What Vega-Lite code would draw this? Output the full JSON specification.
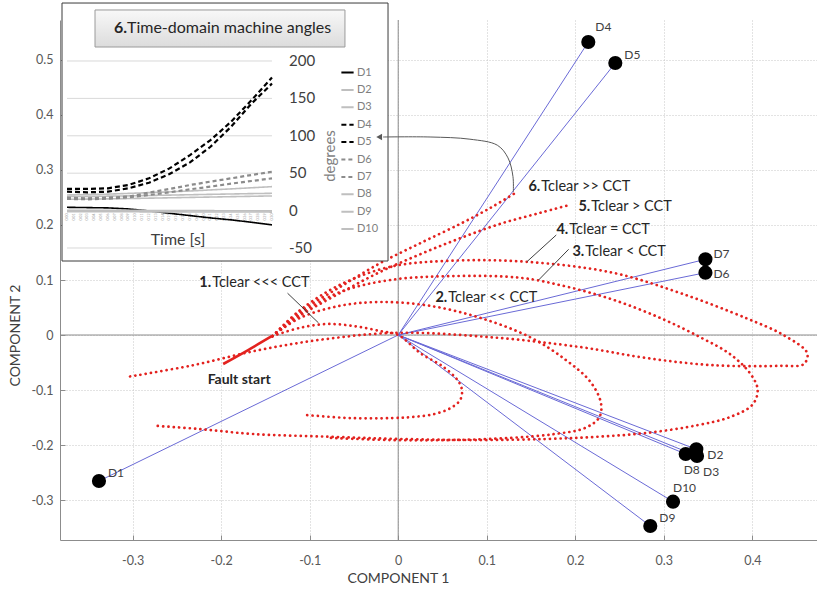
{
"$schema":"https://vega.github.io/schema/vega-lite/v6.json",
"width":757,"height":520,
"autosize":{"type":"none"},
"padding":{"left":60,"top":20,"right":0,"bottom":49},
"background":"white",
"config":{"view":{"stroke":null},"font":"Lato"},
"datasets":{
"pts":[
{"name":"D1","x":-0.338,"y":-0.2655},{"name":"D2","x":0.3367,"y":-0.2078},{"name":"D3","x":0.3375,"y":-0.22},{"name":"D4","x":0.2147,"y":0.5327},{"name":"D5","x":0.2452,"y":0.4945},{"name":"D6","x":0.347,"y":0.1133},{"name":"D7","x":0.347,"y":0.1376},{"name":"D8","x":0.3247,"y":-0.2164},{"name":"D9","x":0.2847,"y":-0.3473},{"name":"D10","x":0.3104,"y":-0.303}],
"curves":[
{"c":"1","i":0,"x":-0.142,"y":-0.002},{"c":"1","i":1,"x":-0.111,"y":0.013},{"c":"1","i":2,"x":-0.08,"y":0.02},{"c":"1","i":3,"x":-0.049,"y":0.016},{"c":"1","i":4,"x":-0.02,"y":0.007},{"c":"1","i":5,"x":0.0,"y":0.0},{"c":"1","i":6,"x":0.025,"y":-0.033},{"c":"1","i":7,"x":0.051,"y":-0.058},{"c":"1","i":8,"x":0.067,"y":-0.082},{"c":"1","i":9,"x":0.072,"y":-0.1},{"c":"1","i":10,"x":0.07,"y":-0.118},{"c":"1","i":11,"x":0.059,"y":-0.133},{"c":"1","i":12,"x":0.04,"y":-0.144},{"c":"1","i":13,"x":0.017,"y":-0.149},{"c":"1","i":14,"x":-0.006,"y":-0.151},{"c":"1","i":15,"x":-0.054,"y":-0.151},{"c":"1","i":16,"x":-0.107,"y":-0.145},
{"c":"2","i":0,"x":-0.142,"y":-0.002},{"c":"2","i":1,"x":-0.111,"y":0.031},{"c":"2","i":2,"x":-0.066,"y":0.053},{"c":"2","i":3,"x":-0.02,"y":0.06},{"c":"2","i":4,"x":0.036,"y":0.053},{"c":"2","i":5,"x":0.093,"y":0.031},{"c":"2","i":6,"x":0.149,"y":-0.004},{"c":"2","i":7,"x":0.189,"y":-0.045},{"c":"2","i":8,"x":0.217,"y":-0.085},{"c":"2","i":9,"x":0.229,"y":-0.124},{"c":"2","i":10,"x":0.227,"y":-0.15},{"c":"2","i":11,"x":0.211,"y":-0.169},{"c":"2","i":12,"x":0.177,"y":-0.18},{"c":"2","i":13,"x":0.127,"y":-0.187},{"c":"2","i":14,"x":0.059,"y":-0.191},{"c":"2","i":15,"x":-0.009,"y":-0.191},{"c":"2","i":16,"x":-0.077,"y":-0.187},
{"c":"3","i":0,"x":-0.142,"y":-0.002},{"c":"3","i":1,"x":-0.111,"y":0.038},{"c":"3","i":2,"x":-0.066,"y":0.078},{"c":"3","i":3,"x":-0.009,"y":0.1},{"c":"3","i":4,"x":0.059,"y":0.107},{"c":"3","i":5,"x":0.138,"y":0.104},{"c":"3","i":6,"x":0.19,"y":0.088},{"c":"3","i":7,"x":0.243,"y":0.064},{"c":"3","i":8,"x":0.296,"y":0.031},{"c":"3","i":9,"x":0.341,"y":-0.004},{"c":"3","i":10,"x":0.375,"y":-0.035},{"c":"3","i":11,"x":0.398,"y":-0.071},{"c":"3","i":12,"x":0.406,"y":-0.1},{"c":"3","i":13,"x":0.4,"y":-0.127},{"c":"3","i":14,"x":0.375,"y":-0.149},{"c":"3","i":15,"x":0.338,"y":-0.164},{"c":"3","i":16,"x":0.281,"y":-0.178},{"c":"3","i":17,"x":0.225,"y":-0.185},{"c":"3","i":18,"x":0.168,"y":-0.189},{"c":"3","i":19,"x":0.093,"y":-0.191},{"c":"3","i":20,"x":0.002,"y":-0.189},{"c":"3","i":21,"x":-0.077,"y":-0.185},{"c":"3","i":22,"x":-0.164,"y":-0.18},{"c":"3","i":23,"x":-0.224,"y":-0.171},{"c":"3","i":24,"x":-0.275,"y":-0.165},
{"c":"4","i":0,"x":-0.142,"y":-0.002},{"c":"4","i":1,"x":-0.111,"y":0.045},{"c":"4","i":2,"x":-0.066,"y":0.091},{"c":"4","i":3,"x":-0.009,"y":0.124},{"c":"4","i":4,"x":0.059,"y":0.135},{"c":"4","i":5,"x":0.146,"y":0.133},{"c":"4","i":6,"x":0.243,"y":0.113},{"c":"4","i":7,"x":0.319,"y":0.076},{"c":"4","i":8,"x":0.394,"y":0.03},{"c":"4","i":9,"x":0.435,"y":0.0},{"c":"4","i":10,"x":0.462,"y":-0.033},{"c":"4","i":11,"x":0.458,"y":-0.053},{"c":"4","i":12,"x":0.432,"y":-0.056},{"c":"4","i":13,"x":0.356,"y":-0.055},{"c":"4","i":14,"x":0.281,"y":-0.042},{"c":"4","i":15,"x":0.206,"y":-0.022},{"c":"4","i":16,"x":0.104,"y":-0.004},{"c":"4","i":17,"x":0.0,"y":0.004},{"c":"4","i":18,"x":-0.08,"y":-0.007},{"c":"4","i":19,"x":-0.156,"y":-0.027},{"c":"4","i":20,"x":-0.232,"y":-0.055},{"c":"4","i":21,"x":-0.305,"y":-0.076},
{"c":"5","i":0,"x":-0.142,"y":-0.002},{"c":"5","i":1,"x":-0.111,"y":0.035},{"c":"5","i":2,"x":-0.066,"y":0.076},{"c":"5","i":3,"x":-0.02,"y":0.115},{"c":"5","i":4,"x":0.025,"y":0.147},{"c":"5","i":5,"x":0.07,"y":0.176},{"c":"5","i":6,"x":0.115,"y":0.202},{"c":"5","i":7,"x":0.16,"y":0.222},{"c":"5","i":8,"x":0.19,"y":0.235},
{"c":"6","i":0,"x":-0.142,"y":-0.002},{"c":"6","i":1,"x":-0.111,"y":0.042},{"c":"6","i":2,"x":-0.066,"y":0.087},{"c":"6","i":3,"x":-0.02,"y":0.131},{"c":"6","i":4,"x":0.025,"y":0.167},{"c":"6","i":5,"x":0.07,"y":0.202},{"c":"6","i":6,"x":0.104,"y":0.231},{"c":"6","i":7,"x":0.132,"y":0.258}],
"fault":[{"i":0,"x":-0.1977,"y":-0.0527},{"i":1,"x":-0.1695,"y":-0.0273},{"i":2,"x":-0.1424,"y":-0.0018}],
"ptr":[{"x":-0.125,"y":0.076,"xe":-0.09,"ye":0.022},{"x":0.1785,"y":0.1818,"xe":0.1454,"ye":0.1333},{"x":0.1925,"y":0.1558,"xe":0.1586,"ye":0.1}],
"ann":[{"num":"1.","text":"Tclear <<< CCT","x":-0.2113,"y":0.0945},{"num":"2.","text":"Tclear << CCT","x":0.0554,"y":0.0673},{"num":"3.","text":"Tclear < CCT","x":0.2102,"y":0.1509},{"num":"4.","text":"Tclear = CCT","x":0.1921,"y":0.1909},{"num":"5.","text":"Tclear > CCT","x":0.2169,"y":0.2327},{"num":"6.","text":"Tclear >> CCT","x":0.1605,"y":0.2691}],
"arrow":[{"i":0,"x":0.13,"y":0.26},{"i":1,"x":0.1296,"y":0.288},{"i":2,"x":0.124,"y":0.322},{"i":3,"x":0.112,"y":0.345},{"i":4,"x":0.081,"y":0.356},{"i":5,"x":0.036,"y":0.36},{"i":6,"x":-0.017,"y":0.36}],
"ingrid":[{"v":200,"lab":"200"},{"v":150,"lab":"150"},{"v":100,"lab":"100"},{"v":50,"lab":"50"},{"v":0,"lab":"0"},{"v":-50,"lab":"-50"}],
"tt":[{"t":0.0,"lab":"0.00"},{"t":0.01,"lab":"0.01"},{"t":0.02,"lab":"0.02"},{"t":0.03,"lab":"0.03"},{"t":0.04,"lab":"0.04"},{"t":0.05,"lab":"0.05"},{"t":0.06,"lab":"0.06"},{"t":0.07,"lab":"0.07"},{"t":0.08,"lab":"0.08"},{"t":0.09,"lab":"0.09"},{"t":0.1,"lab":"0.10"},{"t":0.11,"lab":"0.11"},{"t":0.12,"lab":"0.12"},{"t":0.13,"lab":"0.13"},{"t":0.14,"lab":"0.14"},{"t":0.15,"lab":"0.15"},{"t":0.16,"lab":"0.16"},{"t":0.17,"lab":"0.17"},{"t":0.18,"lab":"0.18"},{"t":0.19,"lab":"0.19"},{"t":0.2,"lab":"0.20"},{"t":0.21,"lab":"0.21"},{"t":0.22,"lab":"0.22"},{"t":0.23,"lab":"0.23"},{"t":0.24,"lab":"0.24"},{"t":0.25,"lab":"0.25"},{"t":0.26,"lab":"0.26"},{"t":0.27,"lab":"0.27"},{"t":0.28,"lab":"0.28"},{"t":0.29,"lab":"0.29"},{"t":0.3,"lab":"0.30"}],
"ang":[
{"s":"D1","t":0,"d":4.4},{"s":"D1","t":0.03,"d":4.0},{"s":"D1","t":0.06,"d":3.6},{"s":"D1","t":0.09,"d":2.2},{"s":"D1","t":0.12,"d":-0.4},{"s":"D1","t":0.15,"d":-3.6},{"s":"D1","t":0.18,"d":-6.7},{"s":"D1","t":0.21,"d":-9.8},{"s":"D1","t":0.24,"d":-12.4},{"s":"D1","t":0.27,"d":-15.6},{"s":"D1","t":0.3,"d":-19.1},
{"s":"D2","t":0,"d":20.9},{"s":"D2","t":0.03,"d":21.3},{"s":"D2","t":0.06,"d":22.0},{"s":"D2","t":0.09,"d":23.0},{"s":"D2","t":0.12,"d":24.0},{"s":"D2","t":0.15,"d":25.0},{"s":"D2","t":0.18,"d":26.2},{"s":"D2","t":0.21,"d":27.6},{"s":"D2","t":0.24,"d":29.0},{"s":"D2","t":0.27,"d":30.5},{"s":"D2","t":0.3,"d":32.0},
{"s":"D3","t":0,"d":18.7},{"s":"D3","t":0.03,"d":18.9},{"s":"D3","t":0.06,"d":19.3},{"s":"D3","t":0.09,"d":19.7},{"s":"D3","t":0.12,"d":20.2},{"s":"D3","t":0.15,"d":20.7},{"s":"D3","t":0.18,"d":21.2},{"s":"D3","t":0.21,"d":21.7},{"s":"D3","t":0.24,"d":22.2},{"s":"D3","t":0.27,"d":22.7},{"s":"D3","t":0.3,"d":23.1},
{"s":"D4","t":0,"d":28.9},{"s":"D4","t":0.03,"d":28.9},{"s":"D4","t":0.06,"d":29.8},{"s":"D4","t":0.09,"d":34.2},{"s":"D4","t":0.12,"d":43.1},{"s":"D4","t":0.15,"d":56.4},{"s":"D4","t":0.18,"d":74.2},{"s":"D4","t":0.21,"d":94.2},{"s":"D4","t":0.24,"d":118.7},{"s":"D4","t":0.27,"d":147.6},{"s":"D4","t":0.3,"d":177.8},
{"s":"D5","t":0,"d":25.3},{"s":"D5","t":0.03,"d":24.4},{"s":"D5","t":0.06,"d":25.3},{"s":"D5","t":0.09,"d":29.8},{"s":"D5","t":0.12,"d":37.3},{"s":"D5","t":0.15,"d":48.9},{"s":"D5","t":0.18,"d":64.4},{"s":"D5","t":0.21,"d":85.3},{"s":"D5","t":0.24,"d":112.0},{"s":"D5","t":0.27,"d":143.0},{"s":"D5","t":0.3,"d":169.8},
{"s":"D6","t":0,"d":17.3},{"s":"D6","t":0.03,"d":16.4},{"s":"D6","t":0.06,"d":17.3},{"s":"D6","t":0.09,"d":18.7},{"s":"D6","t":0.12,"d":24.0},{"s":"D6","t":0.15,"d":28.9},{"s":"D6","t":0.18,"d":34.2},{"s":"D6","t":0.21,"d":38.7},{"s":"D6","t":0.24,"d":43.1},{"s":"D6","t":0.27,"d":47.6},{"s":"D6","t":0.3,"d":52.0},
{"s":"D7","t":0,"d":15.6},{"s":"D7","t":0.03,"d":15.1},{"s":"D7","t":0.06,"d":16.0},{"s":"D7","t":0.09,"d":17.8},{"s":"D7","t":0.12,"d":20.9},{"s":"D7","t":0.15,"d":24.4},{"s":"D7","t":0.18,"d":28.4},{"s":"D7","t":0.21,"d":32.0},{"s":"D7","t":0.24,"d":36.0},{"s":"D7","t":0.27,"d":39.6},{"s":"D7","t":0.3,"d":43.1},
{"s":"D8","t":0,"d":15.1},{"s":"D8","t":0.03,"d":15.3},{"s":"D8","t":0.06,"d":15.7},{"s":"D8","t":0.09,"d":16.1},{"s":"D8","t":0.12,"d":16.6},{"s":"D8","t":0.15,"d":17.1},{"s":"D8","t":0.18,"d":17.6},{"s":"D8","t":0.21,"d":18.1},{"s":"D8","t":0.24,"d":18.6},{"s":"D8","t":0.27,"d":19.1},{"s":"D8","t":0.3,"d":19.6},
{"s":"D9","t":0,"d":0.5},{"s":"D9","t":0.03,"d":0.5},{"s":"D9","t":0.06,"d":0.4},{"s":"D9","t":0.09,"d":0.3},{"s":"D9","t":0.12,"d":0.2},{"s":"D9","t":0.15,"d":0.1},{"s":"D9","t":0.18,"d":0.0},{"s":"D9","t":0.21,"d":-0.1},{"s":"D9","t":0.24,"d":-0.2},{"s":"D9","t":0.27,"d":-0.3},{"s":"D9","t":0.3,"d":-0.4},
{"s":"D10","t":0,"d":-1.5},{"s":"D10","t":0.03,"d":-1.5},{"s":"D10","t":0.06,"d":-1.6},{"s":"D10","t":0.09,"d":-1.6},{"s":"D10","t":0.12,"d":-1.7},{"s":"D10","t":0.15,"d":-1.7},{"s":"D10","t":0.18,"d":-1.8},{"s":"D10","t":0.21,"d":-1.8},{"s":"D10","t":0.24,"d":-1.9},{"s":"D10","t":0.27,"d":-1.9},{"s":"D10","t":0.3,"d":-2.0}]
},
"resolve":{"scale":{"x":"independent","y":"independent"}},
"layer":[
{"layer":[
 {"data":{"values":[{}]},"mark":{"type":"rule","color":"#8c8c8c","strokeWidth":1},"encoding":{"x":{"datum":0,"type":"quantitative"}}},
 {"data":{"values":[{}]},"mark":{"type":"rule","color":"#8c8c8c","strokeWidth":1},"encoding":{"y":{"datum":0,"type":"quantitative"}}},
 {"data":{"name":"pts"},"mark":{"type":"rule","color":"#6a6ad6","strokeWidth":1},
  "encoding":{
   "x":{"field":"x","type":"quantitative","scale":{"domain":[-0.382,0.473],"nice":false,"zero":false},
        "axis":{"title":"COMPONENT 1","values":[-0.3,-0.2,-0.1,0,0.1,0.2,0.3,0.4],"labelExpr":"'' + round(datum.value*10)/10","grid":true,"gridColor":"#c6c6c6","gridDash":[1,2],"domainColor":"#8c8c8c","tickColor":"#8c8c8c","tickSize":-5,"labelPadding":19,"labelFontSize":12.5,"labelColor":"#595959","labelFont":"Lato","titleFont":"Lato","titleFontSize":14,"titleColor":"#404040","titleFontWeight":"normal","titleX":338,"titleY":31,"titleBaseline":"top","titleAlign":"center","labelFlush":false,"labelOverlap":false}},
   "y":{"field":"y","type":"quantitative","scale":{"domain":[-0.3727,0.5727],"nice":false,"zero":false},
        "axis":{"title":"COMPONENT 2","values":[-0.3,-0.2,-0.1,0,0.1,0.2,0.3,0.4,0.5],"labelExpr":"'' + round(datum.value*10)/10","grid":true,"gridColor":"#c6c6c6","gridDash":[1,2],"domainColor":"#8c8c8c","tickColor":"#8c8c8c","tickSize":-5,"labelPadding":12,"labelFontSize":12.5,"labelColor":"#595959","labelFont":"Lato","titleFont":"Lato","titleFontSize":14,"titleColor":"#404040","titleFontWeight":"normal","titleX":-45,"titleY":315,"titleAngle":270,"titleBaseline":"middle","titleAlign":"center","labelFlush":false,"labelOverlap":false}},
   "x2":{"datum":0},"y2":{"datum":0}}},
 {"data":{"name":"curves"},"mark":{"type":"line","color":"#e3221f","strokeWidth":2.7,"strokeDash":[0.1,5.2],"strokeCap":"round","interpolate":"catmull-rom"},
  "encoding":{"x":{"field":"x","type":"quantitative"},"y":{"field":"y","type":"quantitative"},"detail":{"field":"c"},"order":{"field":"i"}}},
 {"data":{"name":"fault"},"mark":{"type":"line","color":"#e3221f","strokeWidth":2.6,"interpolate":"catmull-rom"},
  "encoding":{"x":{"field":"x","type":"quantitative"},"y":{"field":"y","type":"quantitative"},"order":{"field":"i"}}},
 {"data":{"name":"ptr"},"mark":{"type":"rule","color":"#404040","strokeWidth":1},
  "encoding":{"x":{"field":"x","type":"quantitative"},"y":{"field":"y","type":"quantitative"},"x2":{"field":"xe"},"y2":{"field":"ye"}}},
 {"data":{"name":"pts"},"mark":{"type":"point","filled":true,"color":"#000000","opacity":1,"size":200},
  "encoding":{"x":{"field":"x","type":"quantitative"},"y":{"field":"y","type":"quantitative"}}},
 {"data":{"name":"pts"},"transform":[{"filter":{"field":"name","oneOf":["D1","D9","D5"]}}],"mark":{"type":"text","align":"left","baseline":"middle","dx":9,"dy":-8,"fontSize":12,"color":"#404040"},
  "encoding":{"x":{"field":"x","type":"quantitative"},"y":{"field":"y","type":"quantitative"},"text":{"field":"name"}}},
 {"data":{"name":"pts"},"transform":[{"filter":{"field":"name","oneOf":["D4"]}}],"mark":{"type":"text","align":"left","baseline":"middle","dx":7,"dy":-15,"fontSize":12,"color":"#404040"},
  "encoding":{"x":{"field":"x","type":"quantitative"},"y":{"field":"y","type":"quantitative"},"text":{"field":"name"}}},
 {"data":{"name":"pts"},"transform":[{"filter":{"field":"name","oneOf":["D10"]}}],"mark":{"type":"text","align":"left","baseline":"middle","dx":0,"dy":-14,"fontSize":12,"color":"#404040"},
  "encoding":{"x":{"field":"x","type":"quantitative"},"y":{"field":"y","type":"quantitative"},"text":{"field":"name"}}},
 {"data":{"name":"pts"},"transform":[{"filter":{"field":"name","oneOf":["D7"]}}],"mark":{"type":"text","align":"left","baseline":"middle","dx":8,"dy":-5,"fontSize":12,"color":"#404040"},
  "encoding":{"x":{"field":"x","type":"quantitative"},"y":{"field":"y","type":"quantitative"},"text":{"field":"name"}}},
 {"data":{"name":"pts"},"transform":[{"filter":{"field":"name","oneOf":["D6"]}}],"mark":{"type":"text","align":"left","baseline":"middle","dx":8,"dy":1,"fontSize":12,"color":"#404040"},
  "encoding":{"x":{"field":"x","type":"quantitative"},"y":{"field":"y","type":"quantitative"},"text":{"field":"name"}}},
 {"data":{"name":"pts"},"transform":[{"filter":{"field":"name","oneOf":["D2"]}}],"mark":{"type":"text","align":"left","baseline":"middle","dx":11,"dy":6,"fontSize":12,"color":"#404040"},
  "encoding":{"x":{"field":"x","type":"quantitative"},"y":{"field":"y","type":"quantitative"},"text":{"field":"name"}}},
 {"data":{"name":"pts"},"transform":[{"filter":{"field":"name","oneOf":["D3"]}}],"mark":{"type":"text","align":"left","baseline":"middle","dx":6,"dy":16,"fontSize":12,"color":"#404040"},
  "encoding":{"x":{"field":"x","type":"quantitative"},"y":{"field":"y","type":"quantitative"},"text":{"field":"name"}}},
 {"data":{"name":"pts"},"transform":[{"filter":{"field":"name","oneOf":["D8"]}}],"mark":{"type":"text","align":"left","baseline":"middle","dx":-2,"dy":16,"fontSize":12,"color":"#404040"},
  "encoding":{"x":{"field":"x","type":"quantitative"},"y":{"field":"y","type":"quantitative"},"text":{"field":"name"}}},
 {"data":{"name":"ann"},"mark":{"type":"text","align":"right","baseline":"middle","fontWeight":"bold","fontSize":14.5,"color":"#262626"},
  "encoding":{"x":{"field":"x","type":"quantitative"},"y":{"field":"y","type":"quantitative"},"text":{"field":"num"}}},
 {"data":{"name":"ann"},"mark":{"type":"text","align":"left","baseline":"middle","dx":1,"fontSize":14.5,"color":"#262626"},
  "encoding":{"x":{"field":"x","type":"quantitative"},"y":{"field":"y","type":"quantitative"},"text":{"field":"text"}}},
 {"data":{"values":[{"label":"Fault start","x":-0.1797,"y":-0.0818}]},"mark":{"type":"text","align":"center","baseline":"middle","fontWeight":"bold","fontSize":14,"color":"#262626"},
  "encoding":{"x":{"field":"x","type":"quantitative"},"y":{"field":"y","type":"quantitative"},"text":{"field":"label"}}}
]},
{"layer":[
 {"data":{"values":[{}]},"mark":{"type":"rect","fill":"white","stroke":"#3a3a3a","strokeWidth":1},
  "encoding":{"x":{"datum":-0.0073,"type":"quantitative","scale":{"domain":[-0.01024,1.0976],"nice":false,"zero":false},"axis":null},"x2":{"datum":0.4698},
   "y":{"datum":-67.4,"type":"quantitative","scale":{"domain":[-440.4,254.8],"nice":false,"zero":false},"axis":null},"y2":{"datum":277.5}}},
 {"data":{"values":[{}]},"mark":{"type":"rect","stroke":"#9a9a9a","strokeWidth":1,"fill":{"gradient":"linear","x1":0,"y1":0,"x2":0,"y2":1,"stops":[{"offset":0,"color":"#f8f8f8"},{"offset":1,"color":"#dcdcdc"}]}},
  "encoding":{"x":{"datum":0.041,"type":"quantitative","axis":null},"x2":{"datum":0.4068},"y":{"datum":218.7,"type":"quantitative","axis":null},"y2":{"datum":268.2}}},
 {"data":{"values":[{"a":"6.","b":"Time-domain machine angles","t":0.0878,"d":244.1}]},"mark":{"type":"text","align":"right","baseline":"middle","fontWeight":"bold","fontSize":16,"color":"#262626"},
  "encoding":{"x":{"field":"t","type":"quantitative","axis":null},"y":{"field":"d","type":"quantitative","axis":null},"text":{"field":"a"}}},
 {"data":{"values":[{"a":"6.","b":"Time-domain machine angles","t":0.0878,"d":244.1}]},"mark":{"type":"text","align":"left","baseline":"middle","fontSize":16,"color":"#262626"},
  "encoding":{"x":{"field":"t","type":"quantitative","axis":null},"y":{"field":"d","type":"quantitative","axis":null},"text":{"field":"b"}}},
 {"data":{"name":"ingrid"},"mark":{"type":"rule","color":"#d9d9d9","strokeWidth":1},
  "encoding":{"x":{"datum":0,"type":"quantitative","axis":null},"x2":{"datum":0.3},"y":{"field":"v","type":"quantitative","axis":null}}},
 {"data":{"name":"ingrid"},"mark":{"type":"text","align":"left","baseline":"middle","fontSize":15,"color":"#404040"},
  "encoding":{"x":{"datum":0.3249,"type":"quantitative","axis":null},"y":{"field":"v","type":"quantitative","axis":null},"text":{"field":"lab"}}},
 {"data":{"name":"tt"},"mark":{"type":"text","align":"center","baseline":"middle","angle":270,"fontSize":3.6,"color":"#9a9a9a"},
  "encoding":{"x":{"field":"t","type":"quantitative","axis":null},"y":{"datum":-8.6,"type":"quantitative","axis":null},"text":{"field":"lab"}}},
 {"data":{"name":"ang"},"transform":[{"filter":{"field":"s","oneOf":["D2","D3","D8","D9","D10","D1"]}}],"mark":{"type":"line","strokeWidth":1.6},
  "encoding":{"x":{"field":"t","type":"quantitative","axis":null},"y":{"field":"d","type":"quantitative","axis":null},
   "color":{"field":"s","type":"nominal","scale":{"domain":["D1","D2","D3","D4","D5","D6","D7","D8","D9","D10"],"range":["#000000","#bfbfbf","#bfbfbf","#000000","#000000","#8c8c8c","#8c8c8c","#bfbfbf","#bfbfbf","#bfbfbf"]},
     "legend":{"orient":"none","legendX":280,"legendY":45,"title":null,"direction":"vertical","symbolType":"stroke","symbolSize":150,"symbolStrokeWidth":2,"labelFontSize":11,"labelColor":"#7f7f7f","labelFont":"Lato","rowPadding":4.4,"padding":0,"labelOffset":2}},
   "strokeDash":{"field":"s","type":"nominal","scale":{"domain":["D1","D2","D3","D4","D5","D6","D7","D8","D9","D10"],"range":[[1,0],[1,0],[1,0],[5,3],[5,3],[4,3],[4,3],[1,0],[1,0],[1,0]]},
     "legend":{"orient":"none","legendX":280,"legendY":45,"title":null,"direction":"vertical","symbolType":"stroke","symbolSize":150,"symbolStrokeWidth":2,"labelFontSize":11,"labelColor":"#7f7f7f","labelFont":"Lato","rowPadding":4.4,"padding":0,"labelOffset":2}},
   "order":{"field":"t"}}},
 {"data":{"name":"ang"},"transform":[{"filter":{"field":"s","oneOf":["D6","D7","D4","D5"]}}],"mark":{"type":"line","strokeWidth":2.2},
  "encoding":{"x":{"field":"t","type":"quantitative","axis":null},"y":{"field":"d","type":"quantitative","axis":null},
   "color":{"field":"s","type":"nominal"},"strokeDash":{"field":"s","type":"nominal"},"order":{"field":"t"}}},
 {"data":{"values":[{"label":"Time [s]","t":0.1625,"d":-39.3}]},"mark":{"type":"text","align":"center","baseline":"middle","fontSize":16,"color":"#404040"},
  "encoding":{"x":{"field":"t","type":"quantitative","axis":null},"y":{"field":"d","type":"quantitative","axis":null},"text":{"field":"label"}}},
 {"data":{"values":[{"label":"degrees","t":0.3849,"d":73.0}]},"mark":{"type":"text","align":"center","baseline":"middle","angle":270,"fontSize":15,"color":"#7f7f7f"},
  "encoding":{"x":{"field":"t","type":"quantitative","axis":null},"y":{"field":"d","type":"quantitative","axis":null},"text":{"field":"label"}}}
]},
{"layer":[
 {"data":{"name":"arrow"},"mark":{"type":"line","color":"#595959","strokeWidth":1,"interpolate":"catmull-rom"},
  "encoding":{"x":{"field":"x","type":"quantitative","scale":{"domain":[-0.382,0.473],"nice":false,"zero":false},"axis":null},
   "y":{"field":"y","type":"quantitative","scale":{"domain":[-0.3727,0.5727],"nice":false,"zero":false},"axis":null},"order":{"field":"i"}}},
 {"data":{"values":[{"x":-0.0215,"y":0.36}]},"mark":{"type":"point","shape":"triangle-left","filled":true,"color":"#595959","opacity":1,"size":45},
  "encoding":{"x":{"field":"x","type":"quantitative","axis":null},"y":{"field":"y","type":"quantitative","axis":null}}}
]}
]
}
